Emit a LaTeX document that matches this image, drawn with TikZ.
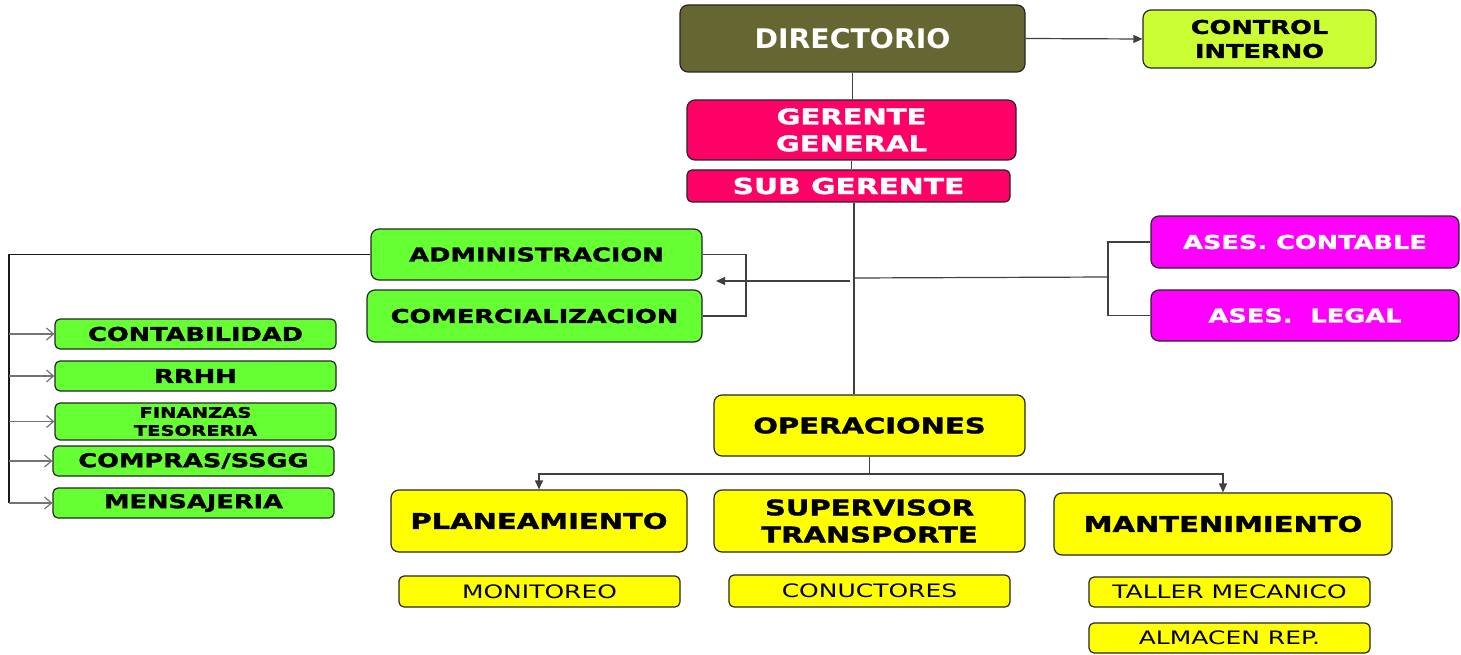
\documentclass[tikz,border=0pt]{standalone}
\usepackage{fontspec}
\setmainfont{DejaVu Sans}
\newfontfamily\vf[FakeStretch=1.35, BoldFeatures={FakeBold=1.6}]{DejaVu Sans}
\newfontfamily\df[FakeStretch=1.05]{DejaVu Sans}
\usetikzlibrary{arrows.meta}
\definecolor{olive}{HTML}{666633}
\definecolor{lime}{HTML}{CCFF33}
\definecolor{rosa}{HTML}{FF0066}
\definecolor{verde}{HTML}{66FF33}
\definecolor{magen}{HTML}{FF00FF}
\definecolor{amar}{HTML}{FFFF00}
\begin{document}
\begin{tikzpicture}[x=1pt,y=-1pt,
  box/.style={draw=black!85, line width=1.2pt, rounded corners=8pt, inner sep=0pt, align=center},
  sbox/.style={box, rounded corners=5pt},
  conn/.style={draw=black!75, line width=1.2pt},
  tip/.style={conn, -{Triangle[length=9pt,width=8pt]}},
  open/.style={draw=black!55, line width=1.2pt, -{Straight Barb[length=7pt,width=12pt]}},
  hd/.style={font=\vf\bfseries\fontsize{21.5}{27}\selectfont},
  gr/.style={font=\vf\bfseries\fontsize{19}{24}\selectfont},
  rg/.style={font=\vf\fontsize{18.5}{22}\selectfont}]
\useasboundingbox (0,0) rectangle (1461,655);
\fill[white] (0,0) rectangle (1461,655);

\node[box, fill=olive, text=white, minimum width=345pt, minimum height=67pt,
  font=\df\bfseries\fontsize{27}{30}\selectfont] (dir) at (852.5,38.5) {DIRECTORIO};
\node[box, fill=lime, minimum width=233pt, minimum height=58pt, gr] (ctrl) at (1259.5,39) {CONTROL\\INTERNO};
\node[box, fill=rosa, text=white, minimum width=329pt, minimum height=60pt,
  font=\vf\bfseries\fontsize{21.5}{27}\selectfont] (gg) at (851.5,130) {GERENTE\\GENERAL};
\node[sbox, fill=rosa, text=white, minimum width=323pt, minimum height=32pt,
  font=\vf\bfseries\fontsize{22}{26}\selectfont] (sub) at (848.5,186) {SUB GERENTE};

\node[box, fill=verde, minimum width=331pt, minimum height=51pt, gr] (adm) at (536.5,254.5) {ADMINISTRACION};
\node[box, fill=verde, minimum width=335pt, minimum height=52pt, gr] (com) at (534.5,316) {COMERCIALIZACION};

\node[box, fill=magen, text=white, minimum width=308pt, minimum height=52pt, gr] (asc) at (1305,242) {ASES. CONTABLE};
\node[box, fill=magen, text=white, minimum width=308pt, minimum height=51pt, gr] (asl) at (1305,315.5) {ASES.~~LEGAL};

\node[sbox, fill=verde, minimum width=281pt, minimum height=30pt, gr] (cont) at (195.5,334) {CONTABILIDAD};
\node[sbox, fill=verde, minimum width=281pt, minimum height=30pt, gr] (rrhh) at (195.5,376) {RRHH};
\node[sbox, fill=verde, minimum width=281pt, minimum height=37pt,
  font=\vf\bfseries\fontsize{14.5}{18}\selectfont] (fin) at (195.5,421.5) {FINANZAS\\TESORERIA};
\node[sbox, fill=verde, minimum width=281pt, minimum height=30pt, gr] (comp) at (193.5,461) {COMPRAS/SSGG};
\node[sbox, fill=verde, minimum width=281pt, minimum height=30pt, gr] (men) at (193.5,503) {MENSAJERIA};

\node[box, fill=amar, minimum width=311pt, minimum height=61pt, hd] (ops) at (869.5,425.5) {OPERACIONES};
\node[box, fill=amar, minimum width=296pt, minimum height=62pt, hd] (plan) at (539,521) {PLANEAMIENTO};
\node[box, fill=amar, minimum width=311pt, minimum height=62pt, hd] (sup) at (869.5,521) {SUPERVISOR\\TRANSPORTE};
\node[box, fill=amar, minimum width=338pt, minimum height=62pt, hd] (mant) at (1223,524) {MANTENIMIENTO};

\node[sbox, fill=amar, minimum width=281pt, minimum height=31pt, rg] (mon) at (539.5,591.5) {MONITOREO};
\node[sbox, fill=amar, minimum width=281pt, minimum height=32pt, rg] (cond) at (869.5,591) {CONUCTORES};
\node[sbox, fill=amar, minimum width=281pt, minimum height=30pt, rg] (tall) at (1229.5,592) {TALLER MECANICO};
\node[sbox, fill=amar, minimum width=281pt, minimum height=30pt, rg] (alm) at (1229.5,638) {ALMACEN REP.};

% coordinates
\coordinate (tx) at (854,0);
\coordinate (bl) at (746,0);
\coordinate (br) at (1108,0);
\coordinate (bus) at (9,0);
\coordinate (ah) at (850,281);
\coordinate (at) at (716,281);
\coordinate (rh) at (854,278);
\coordinate (rm) at (1108,277);
\coordinate (yb) at (0,474);

% connectors
\draw[tip] (dir.east) -- (ctrl.west);
\draw[conn] (dir.south) -- (dir.south |- gg.north);
\draw[conn] (gg.south) -- (gg.south |- sub.north);
\draw[conn] (sub.south -| tx) -- (ops.north -| tx);
\draw[tip] (ah) -- (at);
\draw[conn] (adm.east) -- (adm.east -| bl) -- (com.east -| bl) -- (com.east);
\draw[conn] (rh) -- (rm);
\draw[conn] (asc.west) -- (asc.west -| br) -- (asl.west -| br) -- (asl.west);
\draw[conn, draw=black!90, line width=1.8pt] (adm.west) -- (adm.west -| bus) -- (men.west -| bus);
\foreach \n in {cont,rrhh,fin,comp,men}
  \draw[open] (\n.west -| bus) -- (\n.west);
\draw[conn] (ops.south) -- (ops.south |- yb);
\draw[tip] (ops.south |- yb) -| (plan.north);
\draw[tip] (ops.south |- yb) -| (mant.north);
\end{tikzpicture}
\end{document}
